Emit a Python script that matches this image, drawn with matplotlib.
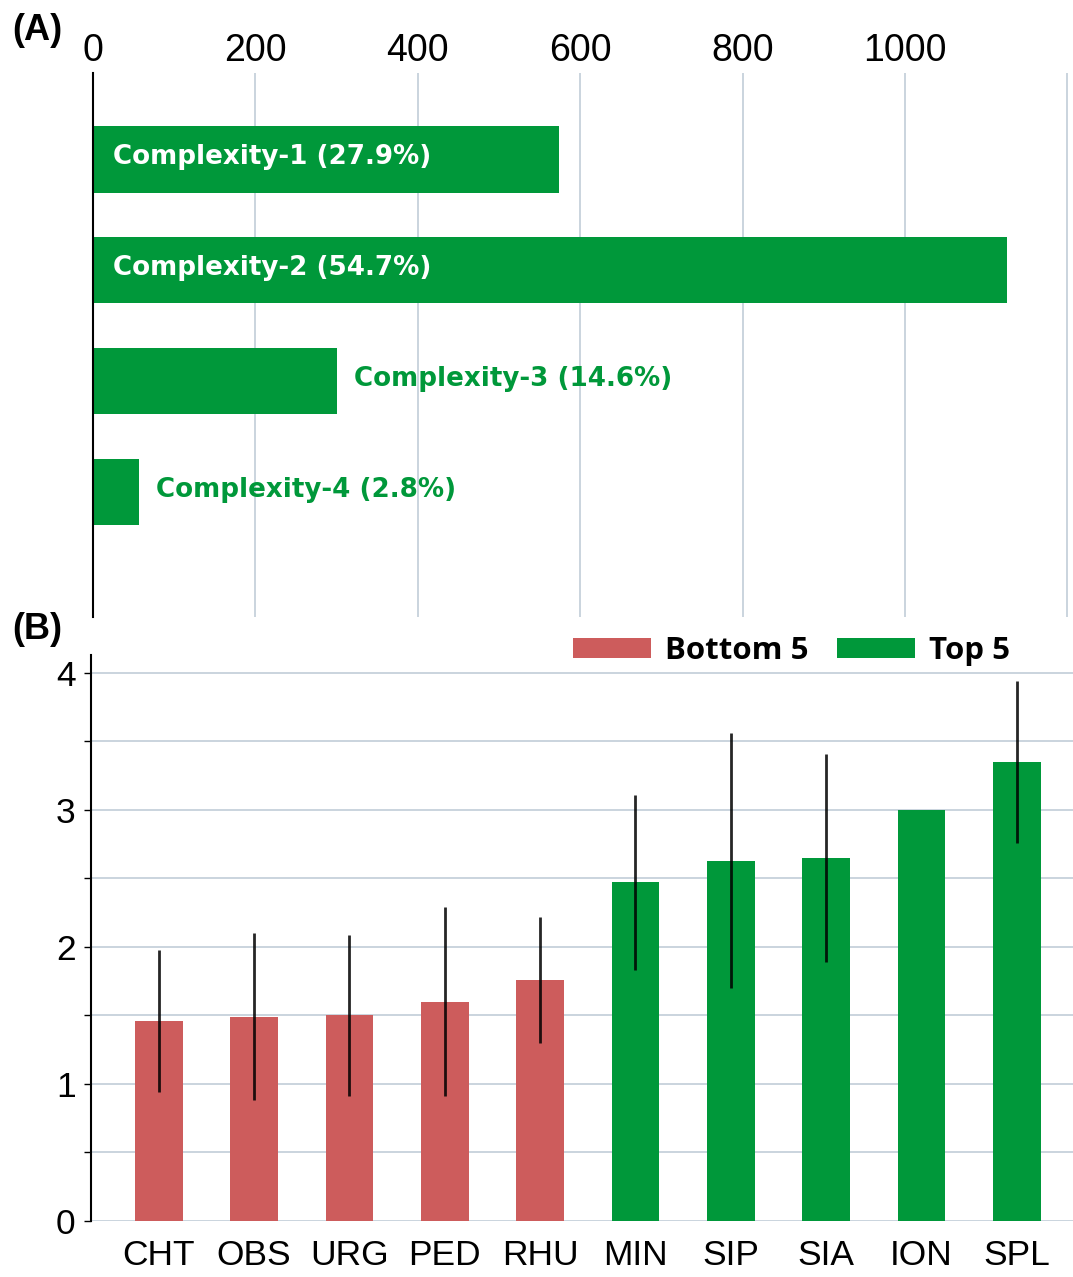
import numpy as np
import matplotlib
matplotlib.use('Agg')
import matplotlib.pyplot as plt
from matplotlib.ticker import MultipleLocator

GREEN = '#00983a'
RED = '#cd5c5c'
GRID = '#cad4de'

# (A) number of cases per complexity level
complexity_labels = ['Complexity-1', 'Complexity-2', 'Complexity-3', 'Complexity-4']
complexity_counts = [574, 1126, 301, 57]

# (B) mean score +/- sd per specialty
bottom_names = ['CHT', 'OBS', 'URG', 'PED', 'RHU']
bottom_means = [1.46, 1.49, 1.50, 1.60, 1.76]
bottom_sds = [0.52, 0.61, 0.59, 0.69, 0.46]
top_names = ['MIN', 'SIP', 'SIA', 'ION', 'SPL']
top_means = [2.47, 2.63, 2.65, 3.00, 3.35]
top_sds = [0.64, 0.93, 0.76, 0.0, 0.59]

W, H = 1073, 1277
fig = plt.figure(figsize=(W / 100, H / 100), dpi=100)
plt.rcParams['font.family'] = ['Liberation Sans', 'DejaVu Sans']

# ---- panel A
axA = fig.add_axes([93 / W, 1 - 617 / H, 1 - 93 / W, (617 - 73) / H])
ypos = np.arange(len(complexity_counts))
axA.barh(ypos, complexity_counts, height=0.6, color=GREEN, zorder=2)
axA.set_ylim(len(complexity_counts) - 1 + 1.13, -0.78)
axA.set_xlim(0, 1207)
axA.xaxis.tick_top()
axA.set_xticks(np.arange(0, 1201, 200))
axA.set_xticklabels([str(v) if v < 1200 else '' for v in range(0, 1201, 200)])
axA.tick_params(axis='x', length=0, pad=3, labelsize=27)
axA.set_yticks([])
axA.grid(axis='x', color=GRID, lw=1.4, zorder=0)
axA.set_axisbelow(True)
for s in ['top', 'right', 'bottom']:
    axA.spines[s].set_visible(False)
axA.spines['left'].set_color('black')
axA.spines['left'].set_linewidth(1.5)
axA.spines['left'].set_zorder(3)

total = sum(complexity_counts)
for y, lab, n in zip(ypos, complexity_labels, complexity_counts):
    txt = f'{lab} ({100 * n / total:.1f}%)'
    if n > 500:
        axA.text(25, y - 0.02, txt, color='white', ha='left', va='center',
                 fontsize=18.8, fontweight='bold', family='DejaVu Sans', zorder=4)
    else:
        axA.text(n + 20, y - 0.02, txt, color=GREEN, ha='left', va='center',
                 fontsize=18.8, fontweight='bold', family='DejaVu Sans', zorder=4)

# ---- panel B
axB = fig.add_axes([91 / W, 1 - 1221 / H, 1 - 91 / W, (1221 - 655) / H])
names = bottom_names + top_names
xb = np.arange(len(bottom_names))
xt = np.arange(len(bottom_names), len(names))
ekw = dict(ecolor='black', elinewidth=2, capsize=0, alpha=0.85)
axB.bar(xb, bottom_means, width=0.5, color=RED, yerr=bottom_sds,
        error_kw=ekw, label='Bottom 5', zorder=2)
axB.bar(xt, top_means, width=0.5, color=GREEN, yerr=top_sds,
        error_kw=ekw, label='Top 5', zorder=2)
axB.set_xlim(-0.71, len(names) - 1 + 0.59)
axB.set_ylim(0, 4.13)
axB.set_xticks(np.arange(len(names)))
axB.set_xticklabels(names)
axB.set_yticks(np.arange(0, 5))
axB.yaxis.set_minor_locator(MultipleLocator(0.5))
axB.tick_params(axis='x', length=0, pad=13, labelsize=25.5)
axB.tick_params(axis='y', which='both', length=5, width=1, labelsize=25.5, pad=6)
axB.grid(axis='y', which='both', color=GRID, lw=1.4, zorder=0)
axB.set_axisbelow(True)
for s in ['top', 'right', 'bottom']:
    axB.spines[s].set_visible(False)
axB.spines['left'].set_color('black')
axB.spines['left'].set_linewidth(1.5)

axB.legend(loc='center right', bbox_to_anchor=(1010 / W, 1 - 651 / H),
           bbox_transform=fig.transFigure, ncol=2, frameon=False,
           prop=dict(family='Open Sans', weight='bold', size=22.5),
           handlelength=2.5, handleheight=0.6, handletextpad=0.45,
           columnspacing=0.9, borderpad=0, borderaxespad=0)

fig.text(12 / W, 1 - 30 / H, '(A)', fontsize=26, fontweight='bold', va='center')
fig.text(12 / W, 1 - 630 / H, '(B)', fontsize=26, fontweight='bold', va='center')

fig.savefig('out.png', dpi=100)
